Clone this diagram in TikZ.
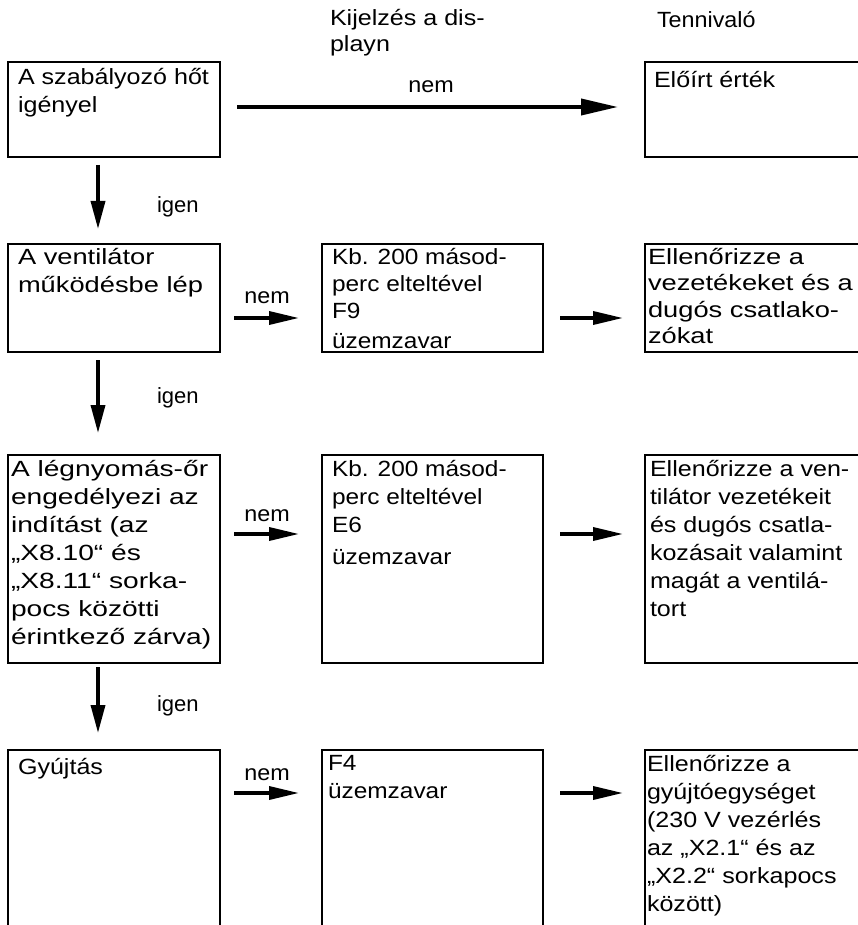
\documentclass[tikz,border=0pt]{standalone}
\usepackage{fontspec}
\setmainfont{Liberation Sans}
\newfontfamily\fa{Liberation Sans}[FakeStretch=1.0]
\newfontfamily\fb{Liberation Sans}[FakeStretch=1.06]
\newfontfamily\fc{Liberation Sans}[FakeStretch=1.11]
\newfontfamily\fe{Liberation Sans}[FakeStretch=1.14]
\newfontfamily\fd{Liberation Sans}[FakeStretch=1.24]
\newfontfamily\ff{Liberation Sans}[FakeStretch=1.28]
\newcommand\bodysize{\fontsize{22}{27.7}\selectfont}
\newcommand\widesize{\fontsize{22}{28}\selectfont}
\newcommand\hdrsize{\fontsize{22}{26}\selectfont}
\usetikzlibrary{arrows.meta}
\tikzset{
  box/.style={draw, line width=2.6pt, inner sep=0pt, outer sep=0pt, anchor=north west},
  txt/.style={anchor=north west, inner sep=0pt, outer sep=0pt, align=left, execute at begin node=\strut},
  lbl/.style={inner sep=0pt, outer sep=0pt},
  bigarr/.style={line width=3.8pt, -{Triangle[length=37pt,width=16pt]}},
  harr/.style={line width=3.5pt, -{Triangle[length=30pt,width=13pt]}},
  varr/.style={line width=3.5pt, -{Triangle[length=28pt,width=14pt]}}
}
\begin{document}
\begin{tikzpicture}[x=1pt,y=-1pt]
\useasboundingbox (0,0) rectangle (858,925);
\clip (0,0) rectangle (858,925);
\fill[white] (0,0) rectangle (858,925);

% headers
\node[txt, font=\hdrsize\fe] (h1) at (330,9.8) {Kijelzés a dis-\\playn};
\node[txt, font=\bodysize\fb] (h2) at (657,8.6) {Tennivaló};

% boxes
\node[box, minimum width=212pt, minimum height=95pt] (L1) at (8,62) {};
\node[box, minimum width=260pt, minimum height=95pt] (R1) at (645,62) {};
\node[box, minimum width=212pt, minimum height=108pt] (L2) at (8,244) {};
\node[box, minimum width=221pt, minimum height=108pt] (M2) at (322,244) {};
\node[box, minimum width=260pt, minimum height=108pt] (R2) at (645,244) {};
\node[box, minimum width=212pt, minimum height=208pt] (L3) at (8,455) {};
\node[box, minimum width=221pt, minimum height=208pt] (M3) at (322,455) {};
\node[box, minimum width=260pt, minimum height=208pt] (R3) at (645,455) {};
\node[box, minimum width=212pt, minimum height=250pt] (L4) at (8,750) {};
\node[box, minimum width=221pt, minimum height=250pt] (M4) at (322,750) {};
\node[box, minimum width=260pt, minimum height=250pt] (R4) at (645,750) {};

% texts
\node[txt, font=\bodysize\fe] (tL1) at (18,68.6) {A szabályozó hőt\\igényel};
\node[txt, font=\bodysize\fe] (tR1) at (654,68.6) {Előírt érték};
\node[txt, font=\bodysize\fd] (tL2) at (18,248.1) {A ventilátor\\működésbe lép};
\node[txt, font=\fontsize{22}{27}\selectfont\fc] (tM2) at (332,248.1) {Kb. 200 másod-\\perc elteltével\\F9\\[3pt]üzemzavar};
\node[txt, font=\fontsize{22}{26.5}\selectfont\fd] (tR2) at (648,248.1) {Ellenőrizze a\\vezetékeket és a\\dugós csatlako-\\zókat};
\node[txt, font=\widesize\ff] (tL3) at (11,460.6) {A légnyomás-őr\\engedélyezi az\\indítást (az\\„X8.10“ és\\„X8.11“ sorka-\\pocs közötti\\érintkező zárva)};
\node[txt, font=\bodysize\fc] (tM3) at (332,460.6) {Kb. 200 másod-\\perc elteltével\\E6\\[5pt]üzemzavar};
\node[txt, font=\widesize\fe] (tR3) at (650,460.6) {Ellenőrizze a ven-\\tilátor vezetékeit\\és dugós csatla-\\kozásait valamint\\magát a ventilá-\\tort};
\node[txt, font=\bodysize\fe] (tL4) at (18,755.6) {Gyújtás};
\node[txt, font=\bodysize\fc] (tM4) at (328,755.6) {F4\\üzemzavar};
\node[txt, font=\widesize\fe] (tR4) at (647,755.6) {Ellenőrizze a\\gyújtóegységet\\(230 V vezérlés\\az „X2.1“ és az\\„X2.2“ sorkapocs\\között)};

% horizontal connectors
\draw[bigarr, shorten <=17pt, shorten >=27pt] ([yshift=-45pt]L1.north east) -- ([yshift=-45pt]R1.north west);
\draw[harr, shorten <=14pt, shorten >=23pt] ([yshift=-74pt]L2.north east) -- ([yshift=-74pt]M2.north west);
\draw[harr, shorten <=17pt, shorten >=22pt] ([yshift=-74pt]M2.north east) -- ([yshift=-74pt]R2.north west);
\draw[harr, shorten <=14pt, shorten >=23pt] ([yshift=-79pt]L3.north east) -- ([yshift=-79pt]M3.north west);
\draw[harr, shorten <=17pt, shorten >=22pt] ([yshift=-79pt]M3.north east) -- ([yshift=-79pt]R3.north west);
\draw[harr, shorten <=14pt, shorten >=23pt] ([yshift=-43pt]L4.north east) -- ([yshift=-43pt]M4.north west);
\draw[harr, shorten <=17pt, shorten >=22pt] ([yshift=-43pt]M4.north east) -- ([yshift=-43pt]R4.north west);

% vertical connectors
\draw[varr, shorten <=8pt, shorten >=15pt] ([xshift=-16pt]L1.south) -- ([xshift=-16pt]L2.north);
\draw[varr, shorten <=8pt, shorten >=22pt] ([xshift=-16pt]L2.south) -- ([xshift=-16pt]L3.north);
\draw[varr, shorten <=4pt, shorten >=17pt] ([xshift=-16pt]L3.south) -- ([xshift=-16pt]L4.north);

% labels
\node[lbl, anchor=base, font=\bodysize\fb] (n1) at (431,93) {nem};
\node[lbl, anchor=base, font=\bodysize\fb] (n2) at (267,303) {nem};
\node[lbl, anchor=base, font=\bodysize\fb] (n3) at (267,521) {nem};
\node[lbl, anchor=base, font=\bodysize\fb] (n4) at (267,780) {nem};
\node[lbl, anchor=base west, font=\bodysize\fa] (i1) at (157,213) {igen};
\node[lbl, anchor=base west, font=\bodysize\fa] (i2) at (157,403) {igen};
\node[lbl, anchor=base west, font=\bodysize\fa] (i3) at (157,711) {igen};
\end{tikzpicture}
\end{document}
